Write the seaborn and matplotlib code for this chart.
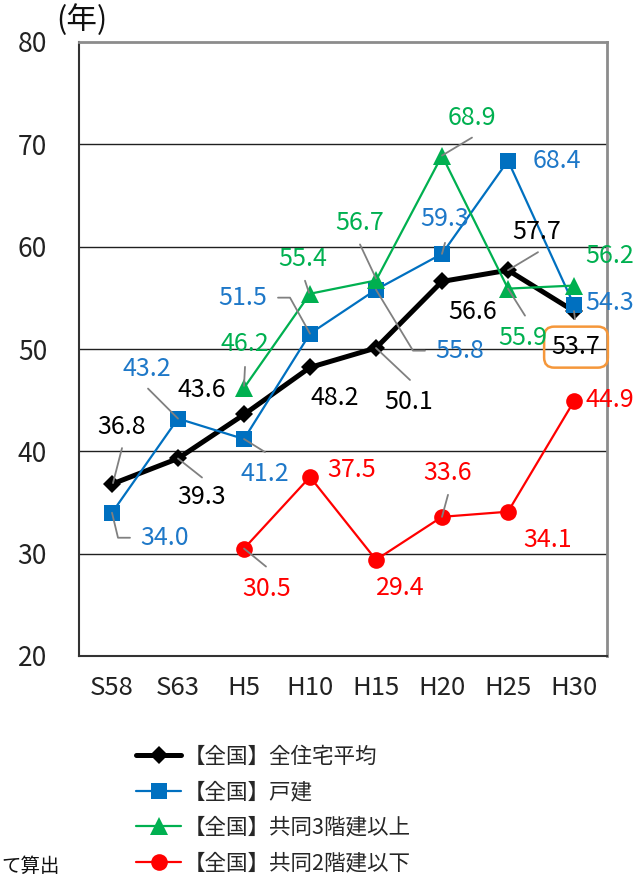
import numpy as np
import matplotlib
matplotlib.use("Agg")
import matplotlib.pyplot as plt
from matplotlib.lines import Line2D
import seaborn as sns

# ---- data -------------------------------------------------------------
periods = ["S58", "S63", "H5", "H10", "H15", "H20", "H25", "H30"]
all_avg = [36.8, 39.3, 43.6, 48.2, 50.1, 56.6, 57.7, 53.7]
detached = [34.0, 43.2, 41.2, 51.5, 55.8, 59.3, 68.4, 54.3]
multi_3plus = [np.nan, np.nan, 46.2, 55.4, 56.7, 68.9, 55.9, 56.2]
multi_2less = [np.nan, np.nan, 30.5, 37.5, 29.4, 33.6, 34.1, 44.9]
series_names = ["【全国】全住宅平均", "【全国】戸建",
                "【全国】共同3階建以上", "【全国】共同2階建以下"]
y_ticks = [20, 30, 40, 50, 60, 70, 80]

# ---- styles -----------------------------------------------------------
styles = [
    dict(color="#000000", lw=3.6, marker="D", ms=9.5),
    dict(color="#0070C0", lw=1.6, marker="s", ms=11.5),
    dict(color="#00B050", lw=1.6, marker="^", ms=13),
    dict(color="#FF0000", lw=1.6, marker="o", ms=12),
]
label_colors = ["#000000", "#1E78C8", "#00B050", "#FF0000"]

# value label offsets (pixels, y downward) and leader paths per point
label_offsets = [
    [(10, -57), (24, 39), (-42, -24), (25, 31), (33, 54), (31, 31), (29, -38), (2, 36)],
    [(53, 25), (-31, -50), (21, 35), (-67, -36), (84, 61), (3, -35), (49, 0), (36, -2)],
    [None, None, (1, -44), (-7, -35), (-16, -57), (30, -38), (15, 49), (36, -30)],
    [None, None, (23, 40), (42, -7), (24, 28), (6, -44), (40, 28), (36, -1)],
]
leaders = [
    {0: [(10, -36), (1, -1)], 1: [(0, 0), (24, 19)], 4: [(0, 0), (34, 32)],
     6: [(0, 0), (30, -18)], 7: [(0, 0), (1, 8)]},
    {0: [(0, 0), (6, 25), (18, 25)], 1: [(0, 0), (-30, -30)], 2: [(0, 0), (21, 13)],
     3: [(0, 0), (-20, -36), (-32, -36)], 4: [(0, 0), (37, 61), (49, 61)],
     5: [(0, 0), (3, -11)]},
    {2: [(1, -21), (0, -2)], 3: [(-5, -13), (-1, -1)], 4: [(-16, -36), (0, -2)],
     5: [(30, -18), (0, 0)], 6: [(17, 27), (0, 0)]},
    {2: [(0, 0), (22, 18)], 5: [(6, -22), (0, 0)]},
]
boxed = {(0, 7)}

sns.set_style("white")
plt.rcParams["font.family"] = ["Noto Sans CJK JP", "DejaVu Sans"]

W, H = 639, 876
fig = plt.figure(figsize=(W / 100, H / 100), dpi=100)
ax = fig.add_axes([79 / W, 1 - 656 / H, (607 - 79) / W, (656 - 42) / H])

x = np.arange(len(periods))
all_series = [all_avg, detached, multi_3plus, multi_2less]
for vals, st in zip(all_series, styles):
    sns.lineplot(x=x, y=vals, ax=ax, color=st["color"], linewidth=st["lw"],
                 marker=st["marker"], markersize=st["ms"], markeredgewidth=0,
                 zorder=3)

ax.set_xlim(-0.5, len(periods) - 0.5)
ax.set_ylim(20, 80)
ax.set_yticks(y_ticks)
ax.set_xticks(x)
ax.set_xticklabels(periods)
ax.set_xticks(np.arange(0.5, len(periods) - 1), minor=True)
ax.tick_params(axis="x", which="major", length=0, pad=14, labelsize=18.5, colors="#222222")
ax.tick_params(axis="x", which="minor", direction="in", length=7, width=1.2, color="#333333")
ax.tick_params(axis="y", which="major", direction="in", length=6, width=1.2,
               pad=23, labelsize=19, colors="#222222")
ax.tick_params(axis="y", labelcolor="#222222", color="#333333")
ax.set_xlabel("")
ax.set_ylabel("")

for yv in y_ticks[1:-1]:
    ax.axhline(yv, color="#202020", lw=1.0, zorder=1)
for side in ("left", "bottom"):
    ax.spines[side].set_color("#333333")
    ax.spines[side].set_linewidth(1.5)
for side in ("top", "right"):
    ax.spines[side].set_color("#8c8c8c")
    ax.spines[side].set_linewidth(2.0)
    ax.spines[side].set_visible(True)

fig.text(82 / W, 1 - 20 / H, "(年)", ha="center", va="center", fontsize=22, color="#111111")

# value labels and leader lines
inv = ax.transData.inverted()
for s, vals in enumerate(all_series):
    for i, v in enumerate(vals):
        off = label_offsets[s][i]
        if off is None or np.isnan(v):
            continue
        px, py = ax.transData.transform((i, v))
        if i in leaders[s]:
            pts = np.array([(px + dx, py - dy) for dx, dy in leaders[s][i]])
            dpts = inv.transform(pts)
            ax.plot(dpts[:, 0], dpts[:, 1], color="#808080", lw=1.3,
                    clip_on=False, zorder=4)
        kw = {}
        if (s, i) in boxed:
            kw["bbox"] = dict(boxstyle="round,pad=0.3,rounding_size=0.4",
                              fc="none", ec="#F5973A", lw=1.8)
        ax.annotate(f"{v:.1f}", xy=(i, v), xytext=(off[0], -off[1]),
                    textcoords="offset pixels", ha="center", va="center",
                    fontsize=18, color=label_colors[s], annotation_clip=False,
                    zorder=5, **kw)

handles = [Line2D([], [], color=st["color"], lw=st["lw"], marker=st["marker"],
                  markersize=st["ms"], markeredgewidth=0) for st in styles]
fig.legend(handles, series_names, loc="upper left",
           bbox_to_anchor=(136 / W, 1 - 746 / H), frameon=False, fontsize=15.5,
           handlelength=2.1, handletextpad=0.1, labelspacing=0.62,
           borderpad=0, borderaxespad=0)

fig.text(1 / W, 1 - 866 / H, "て算出", ha="left", va="center", fontsize=14, color="#111111")

fig.savefig("out.png", dpi=100)
